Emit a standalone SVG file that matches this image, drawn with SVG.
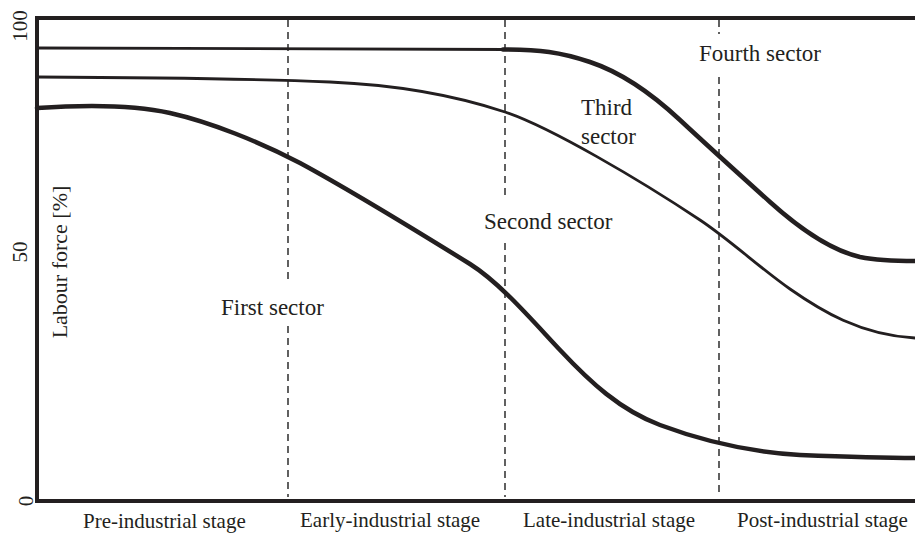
<svg xmlns="http://www.w3.org/2000/svg" width="915" height="533" viewBox="0 0 915 533">
<style>
text{font-family:"Liberation Serif","Times New Roman",serif;fill:#231f20}
.ax{font-size:21px}
.lb{font-size:23px}
.frame{stroke:#231f20;stroke-width:4;fill:none}
.dash{stroke:#3a3a3a;stroke-width:1.6;stroke-dasharray:7 5;fill:none}
.thin{stroke:#231f20;stroke-width:2.8;fill:none;stroke-linecap:round}
.thick{stroke:#231f20;stroke-width:4.5;fill:none;stroke-linecap:round}
</style>
<rect width="915" height="533" fill="#ffffff"/>
<g id="frame">
<path class="frame" d="M915,18 H37 V501 H915"/>
</g>
<g id="stage-dividers">
<path class="dash" d="M288,20 V283 M288,326 V497"/>
<path class="dash" d="M505,20 V197 M505,243 V497"/>
<path class="dash" d="M719,20 V34 M719,77 V497"/>
</g>
<g id="curves">
<path class="thin" d="M37,48 C200,48 400,49.5 505,49.5"/>
<path class="thick" d="M503,49.5 C540,49.5 560,52 590,62 C620,72 650,92 680,120 C710,148 740,175 770,202 C800,229 830,250 860,257 C880,261 900,261 915,261"/>
<path class="thin" d="M37,77 C150,77.5 260,79 330,82 C400,85 460,97 505,112 C550,127 640,180 700,220 C730,240 760,268 790,289 C820,310 860,335 915,338"/>
<path class="thick" d="M37,108 C80,105 130,104 170,113 C210,122 260,142 300,163 C350,190 420,233 470,264 C500,283 530,318 560,350 C590,382 620,410 660,425 C700,440 750,452 800,455 C850,457 880,458 915,458"/>
</g>
<g id="y-axis-labels">
<text class="ax" transform="translate(27,26) rotate(-90)" text-anchor="middle">100</text>
<text class="ax" transform="translate(27,252) rotate(-90)" text-anchor="middle">50</text>
<text class="ax" transform="translate(33,501) rotate(-90)" text-anchor="middle">0</text>
<text class="ax" style="font-size:22px" transform="translate(67,262) rotate(-90)" text-anchor="middle">Labour force [%]</text>
</g>
<g id="x-axis-labels">
<text class="ax" x="83" y="528">Pre-industrial stage</text>
<text class="ax" x="300" y="527">Early-industrial stage</text>
<text class="ax" x="523" y="527">Late-industrial stage</text>
<text class="ax" x="737" y="527">Post-industrial stage</text>
</g>
<g id="sector-labels">
<text class="lb" x="221" y="315">First sector</text>
<text class="lb" x="484" y="229">Second sector</text>
<text class="lb" x="581" y="115">Third</text>
<text class="lb" x="581" y="144">sector</text>
<text class="lb" x="699" y="61">Fourth sector</text>
</g>
</svg>
